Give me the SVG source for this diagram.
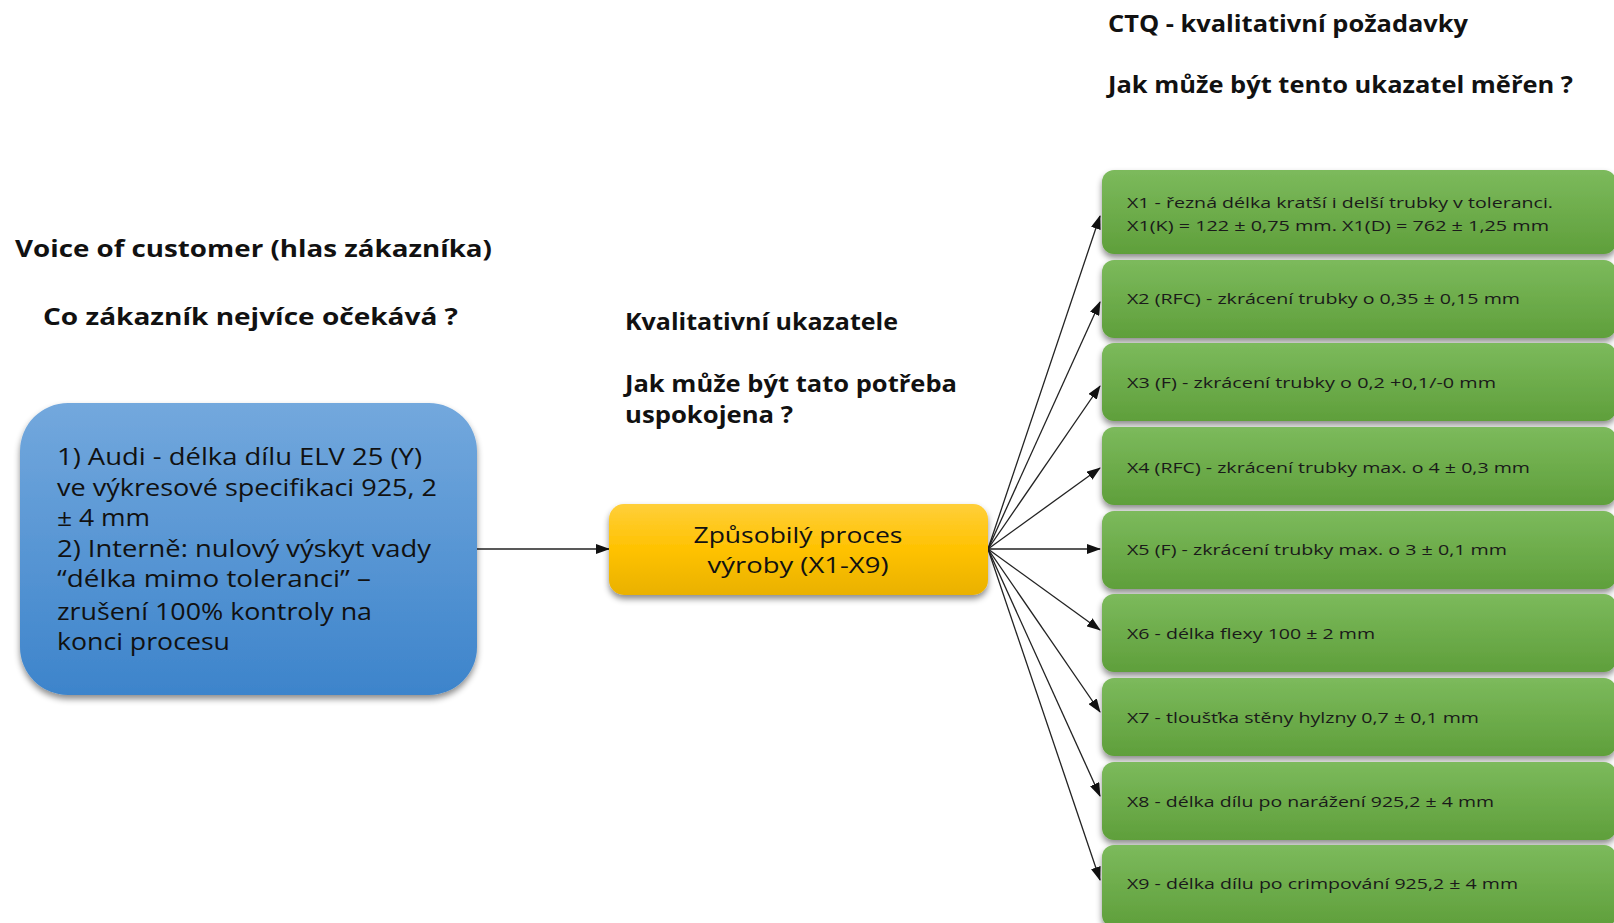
<svg xmlns="http://www.w3.org/2000/svg" width="1614" height="923" viewBox="0 0 1614 923">
  <defs>
    <linearGradient id="gBlue" x1="0" y1="0" x2="0" y2="1">
      <stop offset="0" stop-color="#73a8dd"/>
      <stop offset="1" stop-color="#3d84cb"/>
    </linearGradient>
    <linearGradient id="gYellow" x1="0" y1="0" x2="0" y2="1">
      <stop offset="0" stop-color="#ffcf3a"/>
      <stop offset="0.5" stop-color="#ffc200"/>
      <stop offset="1" stop-color="#e9b100"/>
    </linearGradient>
    <linearGradient id="gGreen" x1="0" y1="0" x2="0" y2="1">
      <stop offset="0" stop-color="#7cba5c"/>
      <stop offset="1" stop-color="#5f9f3b"/>
    </linearGradient>
    <filter id="shadow" x="-10%" y="-20%" width="120%" height="150%">
      <feDropShadow dx="0" dy="4" stdDeviation="3" flood-color="#000" flood-opacity="0.45"/>
    </filter>
    <marker id="arrow" markerUnits="userSpaceOnUse" markerWidth="14" markerHeight="10" refX="13" refY="5" orient="auto">
      <path d="M0,0 L14,5 L0,10 z" fill="#111"/>
    </marker>
  </defs>
  <style>
    text { font-family: "Open Sans", "Liberation Sans", sans-serif; fill: #111; }
    .head { font-size: 23px; font-weight: bold; }
    .blue { font-size: 23px; }
    .yel { font-size: 22px; text-anchor: middle; }
    .grn { font-size: 15px; fill: #1a1a1a; }
    .conn { stroke: #222; stroke-width: 1.3; fill: none; marker-end: url(#arrow); }
  </style>

  <!-- headings -->
  <g id="headings">
    <text class="head" x="15" y="257" textLength="477" lengthAdjust="spacingAndGlyphs">Voice of customer (hlas zákazníka)</text>
    <text class="head" x="43" y="325" textLength="415" lengthAdjust="spacingAndGlyphs">Co zákazník nejvíce očekává ?</text>
    <text class="head" x="625" y="330" textLength="273" lengthAdjust="spacingAndGlyphs">Kvalitativní ukazatele</text>
    <text class="head" x="625" y="392" textLength="332" lengthAdjust="spacingAndGlyphs">Jak může být tato potřeba</text>
    <text class="head" x="625" y="423" textLength="168" lengthAdjust="spacingAndGlyphs">uspokojena ?</text>
    <text class="head" x="1108" y="32" textLength="360" lengthAdjust="spacingAndGlyphs">CTQ - kvalitativní požadavky</text>
    <text class="head" x="1108" y="93" textLength="465" lengthAdjust="spacingAndGlyphs">Jak může být tento ukazatel měřen ?</text>
  </g>

  <!-- connectors -->
  <g id="connectors">
    <line class="conn" x1="477" y1="549" x2="609" y2="549"/>
    <line class="conn" x1="988" y1="549" x2="1100" y2="216"/>
    <line class="conn" x1="988" y1="549" x2="1100" y2="302"/>
    <line class="conn" x1="988" y1="549" x2="1100" y2="386"/>
    <line class="conn" x1="988" y1="549" x2="1100" y2="468"/>
    <line class="conn" x1="988" y1="549" x2="1100" y2="549"/>
    <line class="conn" x1="988" y1="549" x2="1100" y2="630"/>
    <line class="conn" x1="988" y1="549" x2="1100" y2="712"/>
    <line class="conn" x1="988" y1="549" x2="1100" y2="796"/>
    <line class="conn" x1="988" y1="549" x2="1100" y2="880"/>
  </g>

  <!-- customer need -->
  <g id="voc">
    <rect x="20" y="403" width="457" height="292" rx="48" fill="url(#gBlue)" filter="url(#shadow)"/>
    <text class="blue" x="57" y="465" textLength="365" lengthAdjust="spacingAndGlyphs">1) Audi - délka dílu ELV 25 (Y)</text>
    <text class="blue" x="57" y="496" textLength="380" lengthAdjust="spacingAndGlyphs">ve výkresové specifikaci 925, 2</text>
    <text class="blue" x="57" y="526" textLength="93" lengthAdjust="spacingAndGlyphs">± 4 mm</text>
    <text class="blue" x="57" y="557" textLength="374" lengthAdjust="spacingAndGlyphs">2) Interně: nulový výskyt vady</text>
    <text class="blue" x="57" y="587" textLength="314" lengthAdjust="spacingAndGlyphs">“délka mimo toleranci” –</text>
    <text class="blue" x="57" y="620" textLength="315" lengthAdjust="spacingAndGlyphs">zrušení 100% kontroly na</text>
    <text class="blue" x="57" y="650" textLength="173" lengthAdjust="spacingAndGlyphs">konci procesu</text>
  </g>

  <!-- process -->
  <g id="process">
    <rect x="609" y="504" width="379" height="91" rx="15" fill="url(#gYellow)" filter="url(#shadow)"/>
    <text class="yel" x="798" y="543" textLength="209" lengthAdjust="spacingAndGlyphs">Způsobilý proces</text>
    <text class="yel" x="798" y="573" textLength="181" lengthAdjust="spacingAndGlyphs">výroby (X1-X9)</text>
  </g>

  <!-- CTQ items -->
  <g id="x1">
    <rect x="1102" y="170" width="514" height="84" rx="12" fill="url(#gGreen)" filter="url(#shadow)"/>
    <text class="grn" x="1127" y="208" textLength="426" lengthAdjust="spacingAndGlyphs">X1 - řezná délka kratší i delší trubky v toleranci.</text>
    <text class="grn" x="1127" y="231" textLength="422" lengthAdjust="spacingAndGlyphs">X1(K) = 122 ± 0,75 mm. X1(D) = 762 ± 1,25 mm</text>
  </g>
  <g id="x2">
    <rect x="1102" y="260" width="514" height="78" rx="12" fill="url(#gGreen)" filter="url(#shadow)"/>
    <text class="grn" x="1127" y="304" textLength="393" lengthAdjust="spacingAndGlyphs">X2 (RFC) - zkrácení trubky o 0,35 ± 0,15 mm</text>
  </g>
  <g id="x3">
    <rect x="1102" y="343" width="514" height="78" rx="12" fill="url(#gGreen)" filter="url(#shadow)"/>
    <text class="grn" x="1127" y="388" textLength="369" lengthAdjust="spacingAndGlyphs">X3 (F) - zkrácení trubky o 0,2 +0,1/-0 mm</text>
  </g>
  <g id="x4">
    <rect x="1102" y="427" width="514" height="78" rx="12" fill="url(#gGreen)" filter="url(#shadow)"/>
    <text class="grn" x="1127" y="473" textLength="403" lengthAdjust="spacingAndGlyphs">X4 (RFC) - zkrácení trubky max. o 4 ± 0,3 mm</text>
  </g>
  <g id="x5">
    <rect x="1102" y="511" width="514" height="78" rx="12" fill="url(#gGreen)" filter="url(#shadow)"/>
    <text class="grn" x="1127" y="555" textLength="380" lengthAdjust="spacingAndGlyphs">X5 (F) - zkrácení trubky max. o 3 ± 0,1 mm</text>
  </g>
  <g id="x6">
    <rect x="1102" y="594" width="514" height="78" rx="12" fill="url(#gGreen)" filter="url(#shadow)"/>
    <text class="grn" x="1127" y="639" textLength="248" lengthAdjust="spacingAndGlyphs">X6 - délka flexy 100 ± 2 mm</text>
  </g>
  <g id="x7">
    <rect x="1102" y="678" width="514" height="78" rx="12" fill="url(#gGreen)" filter="url(#shadow)"/>
    <text class="grn" x="1127" y="723" textLength="352" lengthAdjust="spacingAndGlyphs">X7 - tloušťka stěny hylzny 0,7 ± 0,1 mm</text>
  </g>
  <g id="x8">
    <rect x="1102" y="762" width="514" height="78" rx="12" fill="url(#gGreen)" filter="url(#shadow)"/>
    <text class="grn" x="1127" y="807" textLength="367" lengthAdjust="spacingAndGlyphs">X8 - délka dílu po narážení 925,2 ± 4 mm</text>
  </g>
  <g id="x9">
    <rect x="1102" y="845" width="514" height="82" rx="12" fill="url(#gGreen)" filter="url(#shadow)"/>
    <text class="grn" x="1127" y="889" textLength="391" lengthAdjust="spacingAndGlyphs">X9 - délka dílu po crimpování 925,2 ± 4 mm</text>
  </g>
</svg>
